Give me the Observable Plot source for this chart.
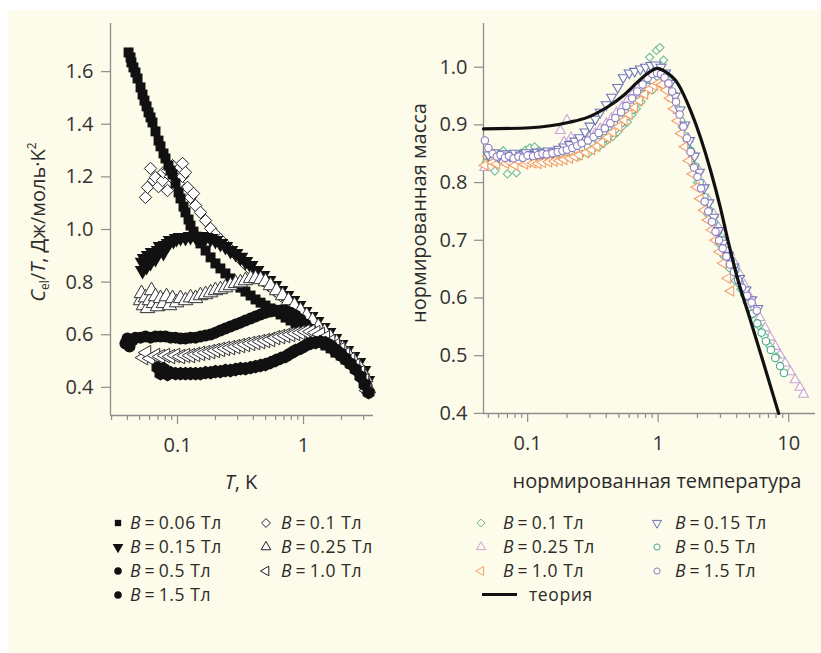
<!DOCTYPE html>
<html>
<head>
<meta charset="utf-8">
<script src="https://cdn.jsdelivr.net/npm/d3@7"></script>
<script src="https://cdn.jsdelivr.net/npm/@observablehq/plot@0.6"></script>
<style>
html,body{margin:0;padding:0;background:#fff;}
#page{position:relative;width:821px;height:653px;overflow:hidden;font-family:"Open Sans",sans-serif;color:#2b2b2b;}
#bg{position:absolute;left:8px;top:10px;right:0;bottom:0;background:#fdfbe9;}
.chart{position:absolute;top:0;}
.lab{position:absolute;font-size:20px;white-space:nowrap;color:#2b2b2b;line-height:22px;}
.rot{transform:translate(-50%,-50%) rotate(-90deg);}
.ctr{transform:translate(-50%,-50%);}
.leg{position:absolute;font-size:17.5px;letter-spacing:0.6px;white-space:nowrap;line-height:20px;height:20px;color:#2b2b2b;}
.mk{position:absolute;}
sub{font-size:12px;vertical-align:-4px;line-height:0;}
sup{font-size:12px;vertical-align:9px;line-height:0;}
</style>
</head>
<body>
<div id="page"><div id="bg"></div></div>
<script>
// ---------- LEFT PANEL DATA (T in K, Cel/T in J/mol K^2) ----------
const T_006 = [0.0409,0.0424,0.0431,0.0447,0.0464,0.0482,0.0509,0.0528,0.0547,0.0568,0.0589,0.0611,0.0633,0.0669,0.0707,0.0733,0.0774,0.0803,0.0848,0.0880,0.0913,0.0964,0.102,0.1056,0.1116,0.1157,0.1223,0.1268,0.134,0.1415,0.152,0.167,0.183,0.200,0.219,0.240,0.263,0.289,0.316,0.346,0.380,0.416,0.456,0.499,0.547,0.600,0.657,0.720,0.789,0.864,0.947,1.04,1.14,1.25,1.36,1.49,1.64,1.79,1.97,2.15,2.36,2.59,2.83,3.05,3.21];
const C_006 = [1.673,1.654,1.635,1.616,1.597,1.574,1.540,1.513,1.490,1.468,1.445,1.426,1.407,1.373,1.338,1.316,1.289,1.270,1.243,1.224,1.209,1.175,1.141,1.118,1.087,1.065,1.038,1.015,0.992,0.973,0.947,0.920,0.894,0.871,0.852,0.833,0.814,0.795,0.779,0.764,0.749,0.734,0.722,0.711,0.700,0.688,0.677,0.665,0.654,0.643,0.631,0.616,0.601,0.586,0.574,0.559,0.548,0.532,0.521,0.506,0.490,0.475,0.452,0.426,0.395];

const T_01 = [0.0557,0.0578,0.0611,0.0645,0.0669,0.0707,0.0760,0.0774,0.0833,0.0833,0.0880,0.0913,0.0964,0.102,0.1056,0.1096,0.1096,0.1157,0.120,0.1268,0.134,0.139,0.152,0.167,0.183,0.200,0.219,0.245,0.273,0.305,0.340,0.380,0.424,0.473,0.528,0.588,0.657,0.746,0.848,0.964,1.10,1.25,1.42,1.61,1.83,2.08,2.36,2.68,2.99];
const C_01 = [1.122,1.160,1.232,1.186,1.198,1.163,1.186,1.217,1.224,1.148,1.202,1.243,1.198,1.175,1.236,1.251,1.202,1.217,1.160,1.122,1.137,1.091,1.065,1.034,1.004,0.981,0.962,0.939,0.916,0.894,0.871,0.848,0.825,0.806,0.787,0.768,0.749,0.726,0.703,0.681,0.658,0.635,0.612,0.589,0.567,0.540,0.513,0.483,0.449];

const T_015 = [0.0528,0.0528,0.0547,0.0568,0.0589,0.0611,0.0633,0.0669,0.0707,0.0733,0.0774,0.0803,0.0848,0.0880,0.0929,0.0982,0.1056,0.1157,0.1268,0.139,0.152,0.167,0.183,0.200,0.219,0.240,0.263,0.289,0.316,0.346,0.380,0.424,0.473,0.528,0.588,0.657,0.733,0.818,0.913,1.02,1.14,1.27,1.42,1.58,1.76,1.97,2.19,2.45,2.73,2.99,3.21];
const C_015 = [0.875,0.844,0.890,0.859,0.901,0.875,0.913,0.890,0.920,0.935,0.913,0.939,0.947,0.958,0.958,0.966,0.970,0.970,0.973,0.973,0.973,0.970,0.966,0.958,0.947,0.935,0.920,0.909,0.894,0.878,0.863,0.844,0.825,0.806,0.787,0.768,0.749,0.730,0.711,0.688,0.669,0.650,0.627,0.608,0.586,0.563,0.540,0.517,0.494,0.464,0.426];

const T_025 = [0.0509,0.0518,0.0537,0.0557,0.0578,0.060,0.0622,0.0645,0.0669,0.0694,0.0733,0.0774,0.0818,0.0864,0.0913,0.0982,0.1056,0.1157,0.1268,0.139,0.152,0.167,0.183,0.200,0.219,0.240,0.263,0.289,0.316,0.346,0.380,0.416,0.456,0.499,0.547,0.611,0.682,0.760,0.848,0.947,1.06,1.18,1.31,1.47,1.64,1.83,2.04,2.27,2.54,2.83,3.11,3.28];
const C_025 = [0.730,0.757,0.711,0.741,0.700,0.730,0.768,0.719,0.745,0.707,0.738,0.719,0.745,0.711,0.738,0.722,0.738,0.730,0.741,0.738,0.749,0.753,0.760,0.768,0.772,0.779,0.787,0.795,0.798,0.806,0.814,0.814,0.810,0.802,0.787,0.768,0.749,0.730,0.711,0.692,0.673,0.654,0.631,0.612,0.589,0.570,0.548,0.525,0.498,0.471,0.437,0.395];

const T_05 = [0.0386,0.0401,0.0416,0.0439,0.0464,0.0509,0.0557,0.0611,0.0669,0.0733,0.0803,0.0880,0.0964,0.1056,0.1157,0.1268,0.139,0.152,0.167,0.183,0.200,0.219,0.240,0.263,0.289,0.316,0.346,0.380,0.416,0.456,0.499,0.547,0.600,0.657,0.720,0.789,0.864,0.947,1.04,1.14,1.25,1.36,1.49,1.64,1.79,1.97,2.15,2.36,2.59,2.83,3.05,3.21];
const C_05 = [0.567,0.586,0.555,0.578,0.589,0.589,0.593,0.589,0.593,0.593,0.593,0.589,0.589,0.586,0.586,0.589,0.589,0.593,0.597,0.601,0.608,0.616,0.624,0.631,0.639,0.646,0.654,0.662,0.669,0.677,0.684,0.688,0.692,0.692,0.692,0.684,0.673,0.658,0.639,0.620,0.601,0.582,0.567,0.551,0.536,0.521,0.506,0.490,0.471,0.449,0.422,0.388];

const T_10 = [0.0537,0.0568,0.0611,0.0669,0.0733,0.0803,0.0880,0.0964,0.1056,0.1157,0.1268,0.139,0.152,0.167,0.183,0.200,0.219,0.240,0.263,0.289,0.316,0.346,0.380,0.416,0.456,0.499,0.547,0.600,0.657,0.720,0.789,0.864,0.947,1.04,1.14,1.25,1.36,1.49,1.64,1.79,1.97,2.15,2.36,2.59,2.83,3.05,3.21];
const C_10 = [0.513,0.532,0.510,0.521,0.517,0.521,0.517,0.521,0.517,0.521,0.521,0.525,0.529,0.532,0.536,0.540,0.544,0.548,0.551,0.555,0.559,0.563,0.567,0.570,0.574,0.578,0.582,0.589,0.593,0.597,0.601,0.605,0.608,0.612,0.612,0.608,0.601,0.589,0.574,0.559,0.544,0.525,0.506,0.483,0.456,0.426,0.388];

const T_15 = [0.0694,0.0733,0.0774,0.0833,0.0880,0.0964,0.1056,0.1157,0.1268,0.139,0.152,0.167,0.183,0.200,0.219,0.240,0.263,0.289,0.316,0.346,0.380,0.416,0.456,0.499,0.547,0.600,0.657,0.720,0.789,0.864,0.947,1.04,1.14,1.25,1.36,1.49,1.64,1.79,1.97,2.15,2.36,2.59,2.83,3.05,3.28];
const C_15 = [0.475,0.452,0.471,0.449,0.456,0.452,0.452,0.452,0.452,0.452,0.452,0.456,0.456,0.460,0.460,0.464,0.464,0.468,0.471,0.471,0.475,0.479,0.483,0.487,0.494,0.502,0.510,0.517,0.529,0.540,0.548,0.559,0.567,0.570,0.574,0.570,0.559,0.544,0.529,0.510,0.490,0.468,0.441,0.411,0.380];

// ---------- RIGHT PANEL DATA (normalized temperature, normalized mass) ----------
const t_01 = [0.048,0.052,0.056,0.06,0.065,0.07,0.076,0.082,0.089,0.096,0.104,0.113,0.122,0.132,0.143,0.155,0.168,0.182,0.197,0.213,0.23,0.25,0.27,0.29,0.32,0.35,0.38,0.41,0.45,0.49,0.53,0.58,0.63,0.68,0.74,0.8,0.86,0.92,0.97,1.03,1.1,1.2,1.3,1.42,1.55,1.7,1.85,2.0,2.2,2.4,2.65,2.9,3.2,3.5,3.9,4.3,4.8,5.3,5.9,6.5,7.2,8.0];
const m_01 = [0.835,0.850,0.820,0.845,0.855,0.815,0.840,0.817,0.850,0.856,0.860,0.862,0.855,0.848,0.842,0.840,0.845,0.850,0.843,0.848,0.852,0.846,0.856,0.850,0.858,0.862,0.868,0.874,0.880,0.888,0.897,0.905,0.918,0.928,0.940,0.955,1.017,0.962,1.029,1.034,1.012,0.978,0.955,0.925,0.895,0.860,0.830,0.800,0.770,0.745,0.718,0.695,0.672,0.652,0.630,0.615,0.592,0.572,0.552,0.534,0.516,0.498];

const t_015 = [0.05,0.055,0.06,0.066,0.073,0.08,0.088,0.097,0.107,0.118,0.13,0.143,0.157,0.173,0.19,0.21,0.23,0.25,0.275,0.30,0.33,0.36,0.40,0.44,0.49,0.54,0.60,0.66,0.73,0.80,0.88,0.96,1.05,1.14,1.24,1.35,1.47,1.6,1.74,1.9,2.07,2.25,2.45,2.67,2.9,3.15,3.45,3.8,4.2,4.7,5.2,5.8];
const m_015 = [0.848,0.852,0.845,0.850,0.846,0.851,0.848,0.852,0.849,0.853,0.851,0.855,0.853,0.858,0.862,0.866,0.872,0.878,0.888,0.898,0.910,0.922,0.935,0.948,0.965,0.982,0.990,0.993,0.997,1.000,1.003,1.004,1.000,0.990,0.972,0.950,0.926,0.900,0.873,0.846,0.818,0.791,0.765,0.740,0.717,0.695,0.674,0.654,0.634,0.614,0.597,0.582];

const t_025 = [0.047,0.051,0.055,0.06,0.065,0.07,0.076,0.083,0.09,0.098,0.107,0.117,0.128,0.14,0.153,0.167,0.178,0.19,0.2,0.215,0.23,0.25,0.27,0.3,0.33,0.36,0.4,0.44,0.48,0.53,0.58,0.64,0.7,0.77,0.84,0.92,1.0,1.09,1.19,1.3,1.42,1.55,1.7,1.86,2.03,2.22,2.43,2.66,2.9,3.2,3.5,3.85,4.2,4.6,5.0,5.5,6.0,6.6,7.2,7.9,8.6,9.4,10.3,11.2,12.2,13.0];
const m_025 = [0.826,0.838,0.842,0.836,0.840,0.835,0.842,0.838,0.843,0.840,0.845,0.843,0.846,0.848,0.850,0.853,0.890,0.870,0.908,0.878,0.862,0.866,0.872,0.878,0.885,0.893,0.902,0.911,0.921,0.931,0.942,0.954,0.965,0.975,0.982,0.986,0.985,0.978,0.965,0.946,0.925,0.902,0.876,0.850,0.823,0.796,0.770,0.745,0.722,0.700,0.680,0.660,0.642,0.622,0.602,0.584,0.566,0.548,0.532,0.516,0.501,0.487,0.472,0.458,0.445,0.433];

const t_05 = [0.05,0.055,0.06,0.066,0.072,0.079,0.087,0.095,0.104,0.114,0.125,0.137,0.15,0.165,0.18,0.2,0.22,0.24,0.265,0.29,0.32,0.35,0.39,0.43,0.47,0.52,0.57,0.63,0.69,0.76,0.83,0.91,1.0,1.08,1.17,1.27,1.38,1.5,1.63,1.77,1.92,2.08,2.26,2.45,2.66,2.88,3.1,3.35,3.6,3.9,4.2,4.55,4.9,5.3,5.75,6.2,6.7,7.3,7.9,8.6,9.2];
const m_05 = [0.845,0.840,0.848,0.843,0.846,0.842,0.847,0.844,0.848,0.846,0.849,0.847,0.850,0.848,0.851,0.853,0.852,0.856,0.858,0.862,0.866,0.870,0.877,0.885,0.893,0.903,0.914,0.926,0.940,0.953,0.966,0.977,0.984,0.982,0.970,0.952,0.930,0.906,0.880,0.855,0.828,0.800,0.775,0.752,0.732,0.715,0.700,0.682,0.665,0.648,0.625,0.607,0.590,0.573,0.556,0.540,0.525,0.510,0.496,0.482,0.470];

const t_10 = [0.047,0.05,0.054,0.058,0.063,0.068,0.074,0.08,0.087,0.095,0.10,0.11,0.12,0.13,0.145,0.16,0.175,0.19,0.21,0.23,0.25,0.28,0.31,0.34,0.37,0.41,0.45,0.5,0.55,0.6,0.66,0.72,0.79,0.86,0.93,1.0,1.07,1.15,1.23,1.32,1.41,1.5,1.6,1.72,1.84,1.97,2.1,2.25,2.4,2.57,2.75,2.95,3.15,3.4,3.6];
const m_10 = [0.830,0.845,0.835,0.832,0.838,0.833,0.835,0.830,0.836,0.832,0.835,0.834,0.833,0.835,0.836,0.837,0.838,0.840,0.842,0.845,0.848,0.852,0.857,0.863,0.870,0.878,0.887,0.897,0.908,0.918,0.930,0.942,0.953,0.962,0.968,0.972,0.970,0.960,0.946,0.928,0.907,0.885,0.862,0.838,0.815,0.792,0.772,0.752,0.735,0.718,0.700,0.680,0.660,0.634,0.612];

const t_15 = [0.047,0.050,0.054,0.058,0.062,0.067,0.072,0.078,0.085,0.092,0.10,0.11,0.12,0.13,0.14,0.155,0.17,0.185,0.20,0.22,0.24,0.26,0.29,0.32,0.35,0.39,0.43,0.47,0.52,0.57,0.63,0.69,0.76,0.83,0.90,0.98,1.05,1.12,1.2,1.28,1.37,1.46,1.56,1.66,1.77,1.88,2.0,2.13,2.27,2.42,2.58,2.75,2.93,3.12,3.33,3.55,3.8,4.1,4.4,4.8,5.2,5.7];
const m_15 = [0.873,0.860,0.850,0.845,0.848,0.843,0.846,0.842,0.845,0.843,0.847,0.846,0.848,0.850,0.849,0.851,0.853,0.855,0.857,0.860,0.864,0.868,0.873,0.879,0.886,0.894,0.903,0.912,0.922,0.933,0.946,0.958,0.970,0.981,0.988,0.990,0.988,0.982,0.972,0.958,0.940,0.918,0.897,0.877,0.853,0.826,0.810,0.790,0.767,0.750,0.732,0.715,0.700,0.686,0.672,0.658,0.645,0.631,0.618,0.604,0.592,0.578];

const t_theory = [0.0459,0.105,0.213,0.287,0.409,0.542,0.694,0.828,0.99,1.10,1.41,1.77,2.11,2.52,3.0,3.38,4.03,5.10,6.44,8.38];
const m_theory = [0.893,0.895,0.905,0.913,0.931,0.951,0.974,0.989,0.998,0.994,0.972,0.925,0.878,0.821,0.756,0.705,0.636,0.561,0.486,0.400];

// ---------- AXES / TICKS / LABELS ----------
const leftXDomain = [0.0294, 3.59];
const leftYDomain = [0.293, 1.783];
const leftYTicks = [0.4, 0.6, 0.8, 1.0, 1.2, 1.4, 1.6];
const leftXMajor = [0.1, 1];
const leftXMinor = [0.03,0.04,0.05,0.06,0.07,0.08,0.09,0.2,0.3,0.4,0.5,0.6,0.7,0.8,0.9,2,3];

const rightXDomain = [0.0459, 16.05];
const rightYDomain = [0.3998, 1.0757];
const rightYTicks = [0.4, 0.5, 0.6, 0.7, 0.8, 0.9, 1.0];
const rightXMajor = [0.1, 1, 10];
const rightXMinor = [0.05,0.06,0.07,0.08,0.09,0.2,0.3,0.4,0.5,0.6,0.7,0.8,0.9,2,3,4,5,6,7,8,9];

const leftFields = ["0.06", "0.1", "0.15", "0.25", "0.5", "1.0", "1.5"];
const rightFields = ["0.1", "0.15", "0.25", "0.5", "1.0", "1.5"];
const theoryLabel = "теория";

// ---------- custom symbols ----------
const sqrt3 = Math.sqrt(3);
const triDown = {draw(ctx, size) {const y = -Math.sqrt(size / (sqrt3 * 3)); ctx.moveTo(0, -y * 2); ctx.lineTo(-sqrt3 * y, y); ctx.lineTo(sqrt3 * y, y); ctx.closePath();}};
const triLeft = {draw(ctx, size) {const y = -Math.sqrt(size / (sqrt3 * 3)); ctx.moveTo(y * 2, 0); ctx.lineTo(-y, -sqrt3 * y); ctx.lineTo(-y, sqrt3 * y); ctx.closePath();}};

const pts = (xs, ys) => xs.map((x, i) => ({x, y: ys[i]}));

const axisColor = "#8d8d8d";
const textColor = "#333";
const fontFam = "'Open Sans', sans-serif";

const leftStyles = [
  {key: "0.1", symbol: "diamond2", r: 5.6, fill: "#fff", stroke: "#222", sw: 1},
  {key: "0.06", symbol: "square", r: 5.6, fill: "#111", stroke: "none", sw: 0},
  {key: "0.15", symbol: triDown, r: 5.8, fill: "#111", stroke: "none", sw: 0},
  {key: "0.25", symbol: "triangle", r: 5.4, fill: "#fff", stroke: "#333", sw: 1},
  {key: "0.5", symbol: "circle", r: 6, fill: "#111", stroke: "none", sw: 0},
  {key: "1.0", symbol: triLeft, r: 5.4, fill: "#fff", stroke: "#333", sw: 1},
  {key: "1.5", symbol: "hexagon", r: 6, fill: "#111", stroke: "none", sw: 0}
];
const leftData = {"0.06": pts(T_006, C_006), "0.1": pts(T_01, C_01), "0.15": pts(T_015, C_015), "0.25": pts(T_025, C_025), "0.5": pts(T_05, C_05), "1.0": pts(T_10, C_10), "1.5": pts(T_15, C_15)};

const rightStyles = [
  {key: "0.25", symbol: "triangle", color: "#c7a3d6"},
  {key: "0.1", symbol: "diamond2", color: "#6dbd8e"},
  {key: "0.5", symbol: "circle", color: "#45a995"},
  {key: "1.0", symbol: triLeft, color: "#f3a068"},
  {key: "0.15", symbol: triDown, color: "#6c74b8"},
  {key: "1.5", symbol: "circle", color: "#8b7cc6"}
];
const rightData = {"0.1": pts(t_01, m_01), "0.15": pts(t_015, m_015), "0.25": pts(t_025, m_025), "0.5": pts(t_05, m_05), "1.0": pts(t_10, m_10), "1.5": pts(t_15, m_15)};

const page = document.getElementById("page");

const leftPlot = Plot.plot({
  width: 410, height: 500,
  marginLeft: 110, marginRight: 37, marginTop: 23, marginBottom: 85,
  style: {background: "transparent", fontSize: "20px", fontFamily: fontFam, overflow: "visible"},
  x: {type: "log", domain: leftXDomain},
  y: {domain: leftYDomain},
  marks: [
    Plot.axisY({ticks: leftYTicks, tickSize: 9, tickPadding: 8, tickFormat: d3.format(".1f"), stroke: axisColor, fill: textColor, strokeWidth: 1.2, label: null}),
    Plot.axisX({ticks: leftXMajor, tickSize: 9, tickPadding: 13, tickFormat: d => String(d), stroke: axisColor, fill: textColor, strokeWidth: 1.2, label: null}),
    Plot.axisX({ticks: leftXMinor, tickSize: 5, tickFormat: () => "", stroke: axisColor, strokeWidth: 1.2, label: null}),
    Plot.ruleX([leftXDomain[0]], {stroke: axisColor, strokeWidth: 1.3}),
    Plot.ruleY([leftYDomain[0]], {stroke: axisColor, strokeWidth: 1.3}),
    ...leftStyles.map(s => Plot.dot(leftData[s.key], {x: "x", y: "y", symbol: s.symbol, r: s.r, fill: s.fill, stroke: s.stroke, strokeWidth: s.sw}))
  ]
});
leftPlot.classList.add("chart");
leftPlot.style.left = "0px";
page.appendChild(leftPlot);

const rightPlot = Plot.plot({
  width: 411, height: 500,
  marginLeft: 73, marginRight: 6, marginTop: 23, marginBottom: 87,
  style: {background: "transparent", fontSize: "20px", fontFamily: fontFam, overflow: "visible"},
  x: {type: "log", domain: rightXDomain},
  y: {domain: rightYDomain},
  marks: [
    Plot.axisY({ticks: rightYTicks, tickSize: 9, tickPadding: 7, tickFormat: d3.format(".1f"), stroke: axisColor, fill: textColor, strokeWidth: 1.2, label: null}),
    Plot.axisX({ticks: rightXMajor, tickSize: 9, tickPadding: 13, tickFormat: d => String(d), stroke: axisColor, fill: textColor, strokeWidth: 1.2, label: null}),
    Plot.axisX({ticks: rightXMinor, tickSize: 5, tickFormat: () => "", stroke: axisColor, strokeWidth: 1.2, label: null}),
    Plot.ruleX([rightXDomain[0]], {stroke: axisColor, strokeWidth: 1.3}),
    Plot.ruleY([rightYDomain[0]], {stroke: axisColor, strokeWidth: 1.3}),
    ...rightStyles.map(s => Plot.dot(rightData[s.key], {x: "x", y: "y", symbol: s.symbol, r: 3.7, fill: "#fffef8", stroke: s.color, strokeWidth: 1.1})),
    Plot.line(pts(t_theory, m_theory), {x: "x", y: "y", stroke: "#111", strokeWidth: 3.2, curve: "monotone-x"})
  ]
});
rightPlot.classList.add("chart");
rightPlot.style.left = "410px";
page.appendChild(rightPlot);

// ---------- axis titles ----------
function addLabel(html, x, y, cls) {
  const d = document.createElement("div");
  d.className = "lab " + cls;
  d.style.left = x + "px"; d.style.top = y + "px";
  d.innerHTML = html;
  page.appendChild(d);
}
addLabel("<i>C</i><sub>el</sub>/<i>T</i>, Дж/моль·K<sup>2</sup>", 38, 222, "rot");
addLabel("<i>T</i>, K", 241, 482, "ctr");
addLabel("нормированная масса", 419, 213, "rot");
addLabel("нормированная температура", 657, 481, "ctr");

// ---------- legends ----------
const rowY = [522, 546, 570, 594];
function markerSvg(symbol, size, fill, stroke, sw) {
  const s = document.createElementNS("http://www.w3.org/2000/svg", "svg");
  s.setAttribute("width", 16); s.setAttribute("height", 16);
  const sym = typeof symbol === "string" ? {square: d3.symbolSquare, diamond2: d3.symbolDiamond2, triangle: d3.symbolTriangle, circle: d3.symbolCircle}[symbol] : symbol;
  const p = document.createElementNS("http://www.w3.org/2000/svg", "path");
  p.setAttribute("d", d3.symbol(sym, size)());
  p.setAttribute("transform", "translate(8,8)");
  p.setAttribute("fill", fill); p.setAttribute("stroke", stroke); p.setAttribute("stroke-width", sw);
  s.appendChild(p);
  return s;
}
function addLegend(mx, tx, row, marker, html) {
  const y = rowY[row];
  if (marker) {
    const m = document.createElement("div");
    m.className = "mk"; m.style.left = (mx - 8) + "px"; m.style.top = (y - 8) + "px";
    m.appendChild(marker);
    page.appendChild(m);
  }
  const t = document.createElement("div");
  t.className = "leg"; t.style.left = tx + "px"; t.style.top = (y - 10) + "px";
  t.innerHTML = html;
  page.appendChild(t);
}
const bTxt = v => `<i>B</i>&#8201;=&#8201;${v} Тл`;
// left legend
addLegend(118, 130, 0, markerSvg("square", 40, "#111", "none", 0), bTxt(leftFields[0]));
addLegend(118, 130, 1, markerSvg(triDown, 50, "#111", "none", 0), bTxt(leftFields[2]));
addLegend(118, 130, 2, markerSvg("circle", 45, "#111", "none", 0), bTxt(leftFields[4]));
addLegend(118, 130, 3, markerSvg("circle", 45, "#111", "none", 0), bTxt(leftFields[6]));
addLegend(266, 281, 0, markerSvg("diamond2", 50, "#fff", "#222", 1), bTxt(leftFields[1]));
addLegend(266, 281, 1, markerSvg("triangle", 40, "#fff", "#222", 1), bTxt(leftFields[3]));
addLegend(266, 281, 2, markerSvg(triLeft, 40, "#fff", "#222", 1), bTxt(leftFields[5]));
// right legend
const rc = Object.fromEntries(rightStyles.map(s => [s.key, s]));
addLegend(481, 503, 0, markerSvg("diamond2", 40, "none", rc["0.1"].color, 1), bTxt(rightFields[0]));
addLegend(481, 503, 1, markerSvg("triangle", 35, "none", rc["0.25"].color, 1), bTxt(rightFields[2]));
addLegend(481, 503, 2, markerSvg(triLeft, 35, "none", rc["1.0"].color, 1), bTxt(rightFields[4]));
addLegend(657, 675, 0, markerSvg(triDown, 35, "none", rc["0.15"].color, 1), bTxt(rightFields[1]));
addLegend(657, 675, 1, markerSvg("circle", 30, "none", rc["0.5"].color, 1), bTxt(rightFields[3]));
addLegend(657, 675, 2, markerSvg("circle", 30, "none", rc["1.5"].color, 1), bTxt(rightFields[5]));
// theory legend line
{
  const l = document.createElement("div");
  l.style.cssText = `position:absolute;left:482px;top:${rowY[3] - 1.5}px;width:35px;height:3px;background:#111;`;
  page.appendChild(l);
  addLegend(0, 529, 3, null, theoryLabel);
}
</script>
</body>
</html>
